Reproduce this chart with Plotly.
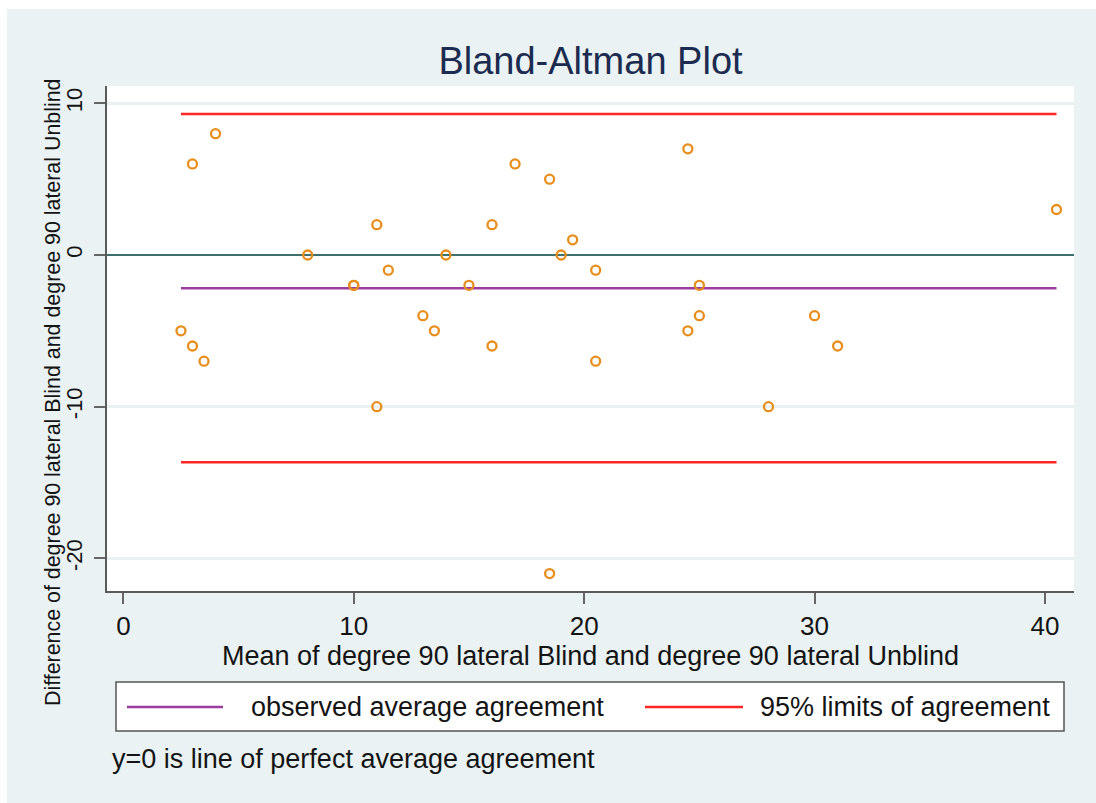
import numpy as np
import plotly.graph_objects as go

# ---- data ----
mean_vals = [2.5, 3, 3, 3.5, 4, 8, 10, 10, 11, 11, 11.5, 13, 13.5, 14, 15, 16,
             16, 17, 18.5, 18.5, 19, 19.5, 20.5, 20.5, 24.5, 24.5, 25, 25, 28,
             30, 31, 40.5]
diff_vals = [-5, -6, 6, -7, 8, 0, -2, -2, 2, -10, -1, -4, -5, 0, -2, 2,
             -6, 6, 5, -21, 0, 1, -1, -7, 7, -5, -2, -4, -10,
             -4, -6, 3]

title_text = "Bland-Altman Plot"
x_title = "Mean of degree 90 lateral Blind and degree 90 lateral Unblind"
y_title = "Difference of degree 90 lateral Blind and degree 90 lateral Unblind"
legend_labels = ["observed average agreement", "95% limits of agreement"]
note_text = "y=0 is line of perfect average agreement"
x_ticks = [0, 10, 20, 30, 40]
y_ticks = [-20, -10, 0, 10]
y_tick_labels = ["-20", "-10", "0", "10"]

# ---- derived statistics ----
d = np.array(diff_vals, dtype=float)
m = np.array(mean_vals, dtype=float)
avg = d.mean()
sd = d.std(ddof=1)
lo, hi = avg - 1.96 * sd, avg + 1.96 * sd
xr = [m.min(), m.max()]

FONT = "Liberation Sans, Arial, sans-serif"
BG = "#EAF2F3"
TXT = "#141414"
PURPLE = "#9A3D9E"
RED = "#FF2626"
ORANGE = "#E88E1C"

# plot-area geometry in pixels (for placing paper-referenced items)
L, R, T, B = 107, 1074, 86, 591
def px(xp):
    return (xp - L) / (R - L)
def py(yp):
    return (B - yp) / (B - T)

fig = go.Figure()
fig.add_trace(go.Scatter(x=xr, y=[avg, avg], mode="lines",
                         line=dict(color=PURPLE, width=2.5),
                         name=legend_labels[0], showlegend=False))
fig.add_trace(go.Scatter(x=xr, y=[hi, hi], mode="lines",
                         line=dict(color=RED, width=2.5),
                         name=legend_labels[1], showlegend=False))
fig.add_trace(go.Scatter(x=xr, y=[lo, lo], mode="lines",
                         line=dict(color=RED, width=2.5),
                         name=legend_labels[1], showlegend=False))
fig.add_trace(go.Scatter(x=mean_vals, y=diff_vals, mode="markers",
                         marker=dict(symbol="circle-open", size=9, color=ORANGE,
                                     line=dict(width=2.3, color=ORANGE)),
                         showlegend=False))

axis_common = dict(showline=True, linecolor="#5A5A5A", linewidth=1.5,
                   ticks="outside", ticklen=11, tickwidth=1.5, tickcolor="#666666",
                   mirror=False)

fig.update_layout(
    width=1096, height=803,
    margin=dict(l=L, r=1096 - R, t=T, b=803 - B, pad=0),
    paper_bgcolor=BG, plot_bgcolor="white",
    font=dict(family=FONT, color=TXT),
    title=dict(text=title_text, xref="paper", x=0.5, xanchor="center",
               y=0.925, yanchor="middle",
               font=dict(size=38, color="#1C2B50", family=FONT)),
    xaxis=dict(range=[-0.71, 41.26], tickvals=x_ticks, showgrid=False, zeroline=False,
               tickfont=dict(size=26, color=TXT),
               title=dict(text=x_title, font=dict(size=27, color=TXT), standoff=0),
               **axis_common),
    yaxis=dict(range=[-22.15, 11.14], tickvals=y_ticks, ticktext=y_tick_labels,
               tickangle=-90,
               showgrid=True, gridcolor="#E9F1F3", gridwidth=2.5,
               zeroline=True, zerolinecolor="#3F6F6C", zerolinewidth=2,
               tickfont=dict(size=22, color=TXT), ticklabelstandoff=3,
               **axis_common),
    showlegend=False,
)

# white strips at the top and left edges of the picture
fig.add_shape(type="rect", xref="paper", yref="paper",
              x0=-0.2, x1=1.1, y0=py(9), y1=1.3,
              fillcolor="white", line=dict(width=0), layer="below")
fig.add_shape(type="rect", xref="paper", yref="paper",
              x0=-0.2, x1=px(7), y0=-0.5, y1=1.3,
              fillcolor="white", line=dict(width=0), layer="below")

# y-axis title
fig.add_annotation(text=y_title, textangle=-90, xref="paper", yref="paper",
                   x=px(53), y=py(393),
                   xanchor="center", yanchor="middle", showarrow=False,
                   font=dict(size=21.4, color=TXT, family=FONT))

# legend box (drawn as a key below the axis title)
fig.add_shape(type="rect", xref="paper", yref="paper",
              x0=px(116), x1=px(1064), y0=py(731), y1=py(682),
              fillcolor="white", line=dict(color="#555555", width=1.5))
fig.add_shape(type="line", xref="paper", yref="paper",
              x0=px(127), x1=px(223), y0=py(707), y1=py(707),
              line=dict(color=PURPLE, width=2.5))
fig.add_shape(type="line", xref="paper", yref="paper",
              x0=px(645), x1=px(743), y0=py(707), y1=py(707),
              line=dict(color=RED, width=2.5))
fig.add_annotation(text=legend_labels[0], xref="paper", yref="paper",
                   x=px(249), y=py(707), xanchor="left", yanchor="middle",
                   showarrow=False, font=dict(size=27, color=TXT, family=FONT))
fig.add_annotation(text=legend_labels[1], xref="paper", yref="paper",
                   x=px(758), y=py(707), xanchor="left", yanchor="middle",
                   showarrow=False, font=dict(size=27, color=TXT, family=FONT))

# note
fig.add_annotation(text=note_text, xref="paper", yref="paper",
                   x=px(110), y=py(759),
                   xanchor="left", yanchor="middle", showarrow=False,
                   font=dict(size=27, color=TXT, family=FONT))

fig.write_html("out.html", config={"displayModeBar": False},
               post_script="document.body.style.margin='0';")
